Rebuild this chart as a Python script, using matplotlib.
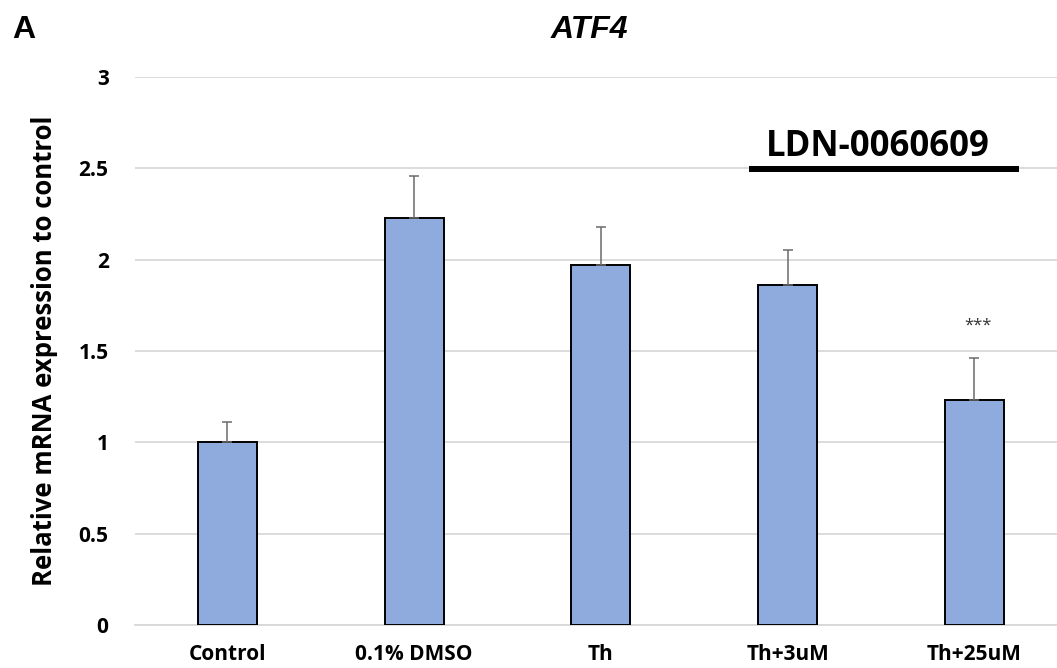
import matplotlib
matplotlib.use('Agg')
import matplotlib.pyplot as plt

# Data
groups = ['Control', '0.1% DMSO', 'Th', 'Th+3uM', 'Th+25uM']
expression = [1.00, 2.23, 1.97, 1.86, 1.23]
sd_upper = [0.11, 0.23, 0.21, 0.19, 0.23]
yticks = [0, 0.5, 1, 1.5, 2, 2.5, 3]
ytick_labels = ['0', '0.5', '1', '1.5', '2', '2.5', '3']

plt.rcParams['font.family'] = ['Open Sans', 'DejaVu Sans']

fig = plt.figure(figsize=(10.57, 6.68), dpi=100)
ax = fig.add_axes([0.1277, 0.0644, 0.8723, 0.8204])

x = list(range(len(groups)))
ax.bar(x, expression, width=0.316, color='#8faadc', edgecolor='black',
       linewidth=1.4, zorder=3)
ax.errorbar(x, expression, yerr=[[0] * len(x), sd_upper], fmt='none',
            ecolor='#6b6b6b', elinewidth=1.1, capsize=3.5, capthick=1.1, zorder=4)

# significance mark over the last bar
ax.text(4.02, 1.637, '***', ha='center', va='center', fontsize=12,
        color='#333333')

# compound bracket
ax.plot([2.793, 4.238], [2.496, 2.496], color='black', lw=4.3,
        solid_capstyle='butt', zorder=5, clip_on=False)
ax.text(3.483, 2.566, 'LDN-0060609', ha='center', va='baseline', fontsize=25,
        fontweight='bold')

ax.set_xlim(-0.495, 4.442)
ax.set_ylim(0, 3)
ax.set_yticks(yticks)
ax.set_yticklabels(ytick_labels, fontsize=15, fontweight='bold')
ax.set_xticks(x)
ax.set_xticklabels(groups, fontsize=15, fontweight='bold')
ax.tick_params(axis='both', length=0)
ax.tick_params(axis='x', pad=14)
ax.tick_params(axis='y', pad=19)
ax.grid(axis='y', color='#d9d9d9', lw=1.3, zorder=0)
ax.set_axisbelow(True)
for side in ['top', 'right', 'left']:
    ax.spines[side].set_visible(False)
ax.spines['bottom'].set_color('#d9d9d9')
ax.spines['bottom'].set_linewidth(1.3)

ax.set_ylabel('Relative mRNA expression to control', fontsize=18.5,
              fontweight='bold')
ax.yaxis.set_label_coords(-0.083, 0.5)

fig.text(0.558, 0.955, 'ATF4', ha='center', va='center', fontsize=23,
         fontweight='bold', style='italic', family='Liberation Sans')
fig.text(0.0114, 0.955, 'A', ha='left', va='center', fontsize=23,
         fontweight='bold', family='Liberation Sans')

fig.savefig('out.png', dpi=100)
